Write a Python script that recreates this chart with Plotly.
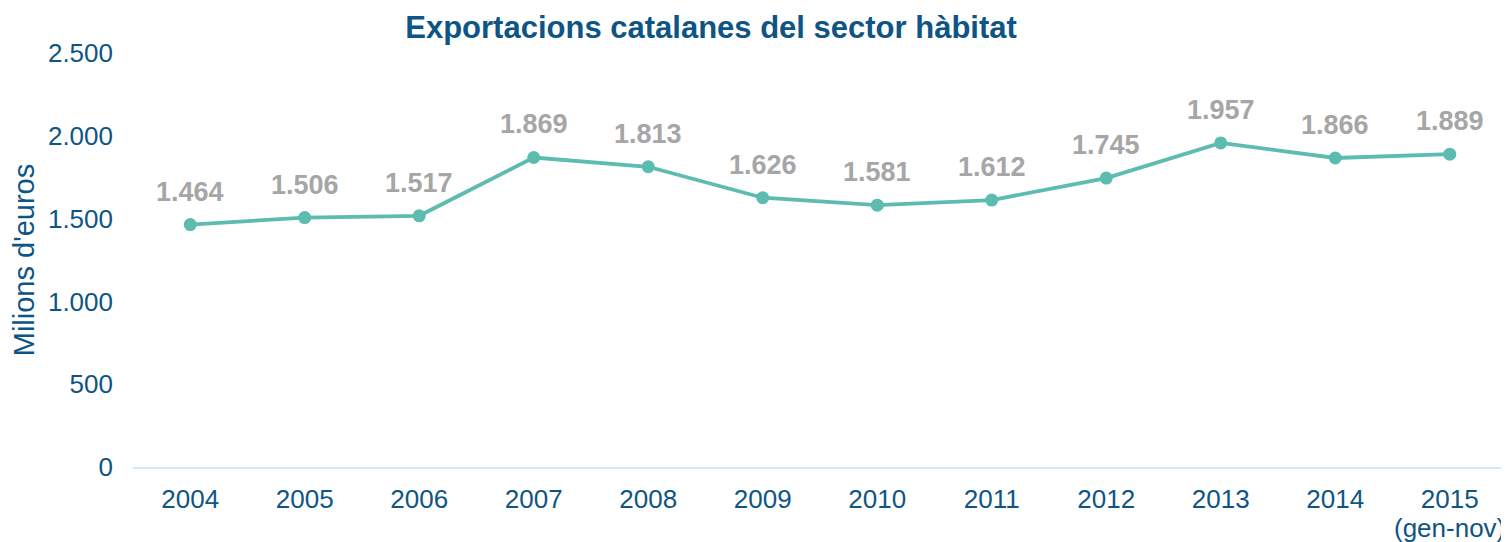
import plotly.graph_objects as go

years = ["2004", "2005", "2006", "2007", "2008", "2009", "2010", "2011", "2012", "2013", "2014", "2015"]
tick_labels = ["2004", "2005", "2006", "2007", "2008", "2009", "2010", "2011", "2012", "2013", "2014", "2015"]
tick_notes = ["", "", "", "", "", "", "", "", "", "", "", "(gen-nov)"]
values = [1464, 1506, 1517, 1869, 1813, 1626, 1581, 1612, 1745, 1957, 1866, 1889]

labels = [f"{v:,}".replace(",", ".") for v in values]
xpos = list(range(len(years)))

fig = go.Figure()
fig.add_trace(go.Scatter(
    x=xpos, y=values, mode="lines+markers",
    line=dict(color="#5BBCAF", width=3.8),
    marker=dict(color="#5BBCAF", size=13),
    hoverinfo="skip", showlegend=False,
))

for x, v, t in zip(xpos, values, labels):
    fig.add_annotation(x=x, y=v, text=t, showarrow=False, yshift=33,
                       font=dict(family="Liberation Sans, Arial", size=27, color="#A6A6A6", weight="bold"))

for x, n in zip(xpos, tick_notes):
    if n:
        fig.add_annotation(x=x, xref="x", y=0, yref="paper", text=n, showarrow=False,
                           yanchor="middle", yshift=-61,
                           font=dict(family="Liberation Sans, Arial", size=26, color="#0E5585"))

fig.update_layout(
    width=1501, height=534,
    margin=dict(l=125, r=2, t=45, b=75),
    paper_bgcolor="white", plot_bgcolor="white",
    separators=",.",
    title=dict(text="<b>Exportacions catalanes del sector hàbitat</b>", x=0.4684, xanchor="center",
               y=0.9644, yanchor="middle",
               font=dict(family="Liberation Sans, Arial", size=31, color="#0E5585")),
    font=dict(family="Liberation Sans, Arial", size=26, color="#0E5585"),
    xaxis=dict(range=[-0.5, 11.5], tickvals=xpos, ticktext=tick_labels, showgrid=False,
               zeroline=False, showline=True, linecolor="#CDEBFA", linewidth=2, ticks="",
               automargin=False, ticklabelstandoff=8, tickfont=dict(size=26, color="#0E5585")),
    yaxis=dict(range=[0, 2500], tickvals=[0, 500, 1000, 1500, 2000, 2500], tickformat=",d",
               showgrid=False, zeroline=False, showline=False, ticks="", automargin=False,
               ticklabelstandoff=19,
               tickfont=dict(size=26, color="#0E5585"),
               title=dict(text="Milions d'euros", font=dict(size=29, color="#0E5585"), standoff=10)),
)

fig.write_html("out.html")
